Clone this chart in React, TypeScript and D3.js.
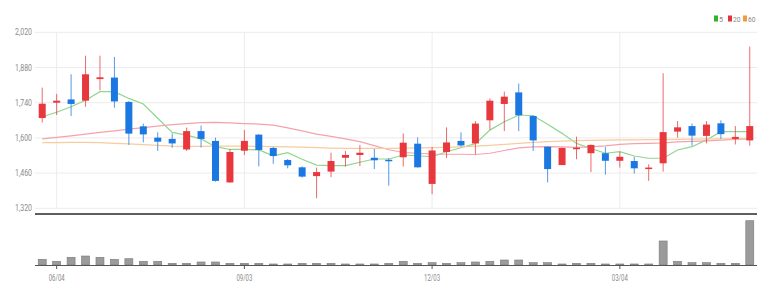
import React from 'react';
import * as d3 from 'd3';

const dates = ['05/28','06/04','06/11','06/18','06/25','07/02','07/09','07/16','07/23','07/30','08/06','08/13','08/20','08/27','09/03','09/10','09/17','09/24','10/01','10/08','10/15','10/22','10/29','11/05','11/12','11/19','11/26','12/03','12/10','12/17','12/24','12/31','01/07','01/14','01/21','01/28','02/04','02/11','02/18','02/25','03/04','03/11','03/18','03/25','04/01','04/08','04/15','04/22','04/29','05/06'];
const xTicks = ['06/04','09/03','12/03','03/04'];
const yTicks = [1320, 1460, 1600, 1740, 1880, 2020];

const opens =  [1679,1740,1753,1748,1834,1840,1743,1646,1601,1596,1554,1627,1588,1423,1549,1613,1560,1512,1483,1448,1466,1521,1532,1521,1513,1523,1577,1417,1544,1588,1578,1670,1735,1781,1687,1565,1492,1557,1539,1539,1509,1508,1476,1499,1625,1647,1608,1658,1596,1590];
const closes = [1736,1748,1735,1853,1841,1745,1617,1614,1585,1578,1627,1596,1429,1544,1588,1552,1528,1491,1446,1464,1508,1532,1541,1511,1508,1581,1483,1550,1582,1570,1657,1748,1764,1690,1590,1476,1560,1561,1572,1509,1525,1479,1482,1623,1642,1609,1653,1615,1604,1647];
const highs =  [1800,1775,1853,1927,1927,1922,1747,1657,1622,1618,1641,1649,1601,1556,1631,1615,1564,1516,1487,1482,1541,1548,1572,1556,1519,1618,1602,1564,1642,1622,1667,1757,1784,1816,1690,1565,1562,1605,1574,1564,1545,1525,1495,1857,1667,1657,1667,1670,1647,1963];
const lows =   [1661,1691,1687,1724,1789,1720,1572,1582,1548,1561,1548,1562,1426,1421,1532,1487,1497,1479,1442,1360,1444,1486,1488,1476,1410,1486,1482,1376,1520,1565,1535,1633,1627,1627,1548,1423,1492,1515,1464,1454,1482,1458,1429,1466,1601,1569,1578,1596,1574,1569];
const volumes = [129,84,174,203,174,129,142,84,84,38,38,68,68,38,38,38,23,23,38,38,38,23,23,23,38,84,38,52,38,52,68,84,113,113,52,52,23,38,38,23,23,23,23,542,84,52,52,38,38,1000];
const ma5 = [1684,1702,1724,1750,1784,1784,1757,1735,1678,1622,1611,1596,1565,1554,1554,1552,1529,1541,1515,1492,1490,1490,1503,1516,1516,1532,1529,1525,1545,1561,1577,1631,1664,1691,1688,1654,1618,1578,1558,1539,1545,1528,1519,1519,1552,1565,1592,1625,1625,1625];
const ma20 = [1596,1602,1608,1615,1622,1628,1635,1641,1647,1653,1657,1661,1662,1660,1657,1655,1651,1640,1628,1615,1606,1596,1585,1569,1553,1542,1539,1536,1535,1535,1534,1539,1550,1560,1564,1565,1564,1562,1564,1568,1574,1577,1578,1580,1584,1586,1588,1591,1594,1596];
const ma60 = [1581,1581,1582,1582,1581,1578,1576,1573,1570,1567,1566,1566,1567,1567,1567,1566,1565,1564,1563,1561,1559,1558,1558,1558,1558,1559,1560,1561,1562,1564,1567,1570,1574,1578,1582,1585,1587,1589,1590,1591,1592,1592,1593,1593,1594,1595,1596,1596,1597,1598];
const legendLabels = ['5', '20', '60'];

const W = 773, H = 298;
const UP = '#e8383d', DOWN = '#1b78e3';
const LEG = ['#2bb52b', '#e8303a', '#f39a3c'];
const MAC = ['#8fd68f', '#f5a3ab', '#f7cc9f'];

export default function App() {
  const x = d3.scaleBand<string>().domain(dates).range([35, 757]).paddingInner(0).paddingOuter(0);
  const cx = (d: string) => (x(d) as number) + x.bandwidth() / 2;
  const y = d3.scaleLinear().domain([1320, 2020]).range([208.3, 32.3]);
  const yv = d3.scaleLinear().domain([0, 1000]).range([265, 220.7]);
  const bw = 7;
  const line = d3.line<number>().x((_, i) => cx(dates[i])).y(v => y(v));
  const mas = [ma5, ma20, ma60];
  return (
    <svg width={W} height={H} style={{ position: 'absolute', left: 0, top: 0, background: '#fff' }}
      fontFamily="Roboto, 'DejaVu Sans', sans-serif">
      {yTicks.map(t => (
        <g key={t}>
          <line x1={35} x2={757} y1={y(t)} y2={y(t)} stroke="#ececec" strokeWidth={1} />
          <text x={32} y={y(t) + 3} fontSize={8.5} fill="#8a8a8a" textAnchor="end"
            textLength={17} lengthAdjust="spacingAndGlyphs">{d3.format(',')(t)}</text>
        </g>
      ))}
      {xTicks.map(t => (
        <line key={t} x1={cx(t)} x2={cx(t)} y1={32.3} y2={208.3} stroke="#ececec" strokeWidth={1} />
      ))}
      {mas.map((m, k) => (
        <path key={k} d={line(m) as string} fill="none" stroke={MAC[k]} strokeWidth={1.2} />
      ))}
      {dates.map((d, i) => {
        const up = closes[i] >= opens[i];
        const c = up ? UP : DOWN;
        const top = y(Math.max(opens[i], closes[i]));
        const bot = y(Math.min(opens[i], closes[i]));
        return (
          <g key={d}>
            <line x1={cx(d)} x2={cx(d)} y1={y(highs[i])} y2={y(lows[i])} stroke={c} strokeWidth={1} opacity={0.75} />
            <rect x={cx(d) - bw / 2} y={top} width={bw} height={Math.max(1.5, bot - top)} fill={c} />
          </g>
        );
      })}
      <line x1={35} x2={757} y1={214} y2={214} stroke="#2a2a2a" strokeWidth={1.6} />
      {dates.map((d, i) => (
        <rect key={d} x={cx(d) - bw / 2 - 0.5} y={yv(volumes[i])} width={bw + 1} height={265 - yv(volumes[i])}
          fill="#9b9b9b" stroke="#7a7a7a" strokeWidth={0.6} />
      ))}
      <line x1={35} x2={757} y1={265.5} y2={265.5} stroke="#555" strokeWidth={1.2} />
      {xTicks.map(t => (
        <g key={t}>
          <line x1={cx(t)} x2={cx(t)} y1={265} y2={269} stroke="#555" strokeWidth={1} />
          <text x={cx(t)} y={281} fontSize={8.5} fill="#8a8a8a" textAnchor="middle"
            textLength={16} lengthAdjust="spacingAndGlyphs">{t}</text>
        </g>
      ))}
      {legendLabels.map((l, k) => {
        const lx = [714, 728, 743][k];
        return (
          <g key={l}>
            <rect x={lx} y={15.5} width={4} height={6} fill={LEG[k]} />
            <text x={lx + 5} y={21.5} fontSize={8} fill="#888"
              textLength={l.length === 1 ? 4 : 7.5} lengthAdjust="spacingAndGlyphs">{l}</text>
          </g>
        );
      })}
    </svg>
  );
}
